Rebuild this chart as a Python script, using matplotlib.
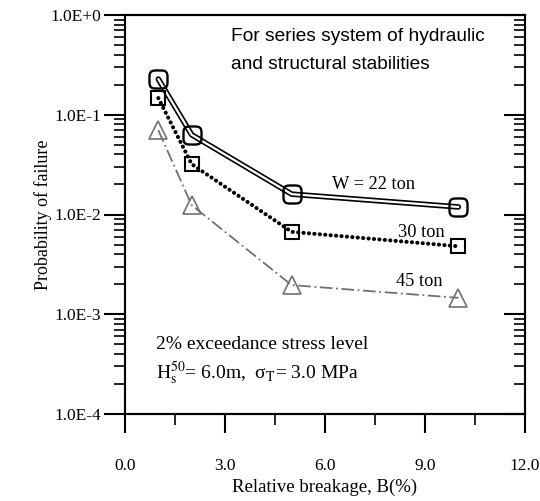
import numpy as np
import matplotlib
matplotlib.use("Agg")
import matplotlib.pyplot as plt
from matplotlib.path import Path
from matplotlib.ticker import FixedLocator, LogLocator, NullFormatter, MultipleLocator

plt.rcParams['mathtext.fontset'] = 'stix'

# ---- data ----
breakage = [1, 2, 5, 10]
p_22ton = [0.228, 0.063, 0.016, 0.0119]
p_30ton = [0.147, 0.032, 0.0067, 0.0048]
p_45ton = [0.070, 0.0124, 0.00196, 0.00146]
y_ticks = [1e-4, 1e-3, 1e-2, 1e-1, 1e0]
y_ticklabels = ["1.0E-4", "1.0E-3", "1.0E-2", "1.0E-1", "1.0E+0"]
x_ticks = [0, 3, 6, 9, 12]
x_ticklabels = ["0.0", "3.0", "6.0", "9.0", "12.0"]

serif = 'Liberation Serif'
sans = 'Liberation Sans'

# rounded-square marker (superellipse)
t = np.linspace(0, 2 * np.pi, 80)
rx = np.sign(np.cos(t)) * np.abs(np.cos(t)) ** 0.5
ry = np.sign(np.sin(t)) * np.abs(np.sin(t)) ** 0.5
rsq = Path(np.column_stack([rx, ry]))

fig = plt.figure(figsize=(5.4, 5.01), dpi=100)
ax = fig.add_axes([125 / 540, 1 - 414 / 501, 400 / 540, 399 / 501])

# 22 ton: double line
ax.plot(breakage, p_22ton, color='black', lw=4.0, solid_capstyle='round', zorder=3)
ax.plot(breakage, p_22ton, color='white', lw=1.6, solid_capstyle='round', zorder=4)
ax.plot(breakage, p_22ton, ls='none', marker=rsq, ms=13, mfc='none', mec='black', mew=1.7, zorder=5)

# 30 ton: dotted
ax.plot(breakage, p_30ton, color='black', lw=2.9, ls=(0, (0.05, 1.3)), dash_capstyle='round', zorder=3)
ax.plot(breakage, p_30ton, ls='none', marker='s', ms=10.5, mfc='none', mec='black', mew=1.5, zorder=5)

# 45 ton: dash-dot gray
ax.plot(breakage, p_45ton, color='#707070', lw=1.3, ls=(0, (7, 2, 1, 2)), zorder=3)
ax.plot(breakage, p_45ton, ls='none', marker='^', ms=13, mfc='none', mec='#707070', mew=1.2, zorder=5)

ax.set_yscale('log')
ax.set_xlim(0, 12)
ax.set_ylim(1e-4, 1)

ax.yaxis.set_major_locator(FixedLocator(y_ticks))
ax.set_yticklabels(y_ticklabels, fontfamily=serif, fontsize=12.5)
ax.yaxis.set_minor_locator(LogLocator(base=10, subs=np.arange(2, 10)))
ax.yaxis.set_minor_formatter(NullFormatter())
ax.set_xticks(x_ticks)
ax.set_xticklabels(x_ticklabels, fontfamily=serif, fontsize=12.5)
ax.xaxis.set_minor_locator(MultipleLocator(1.5))

ax.tick_params(axis='y', which='major', direction='out', length=15, width=1.5, pad=2, right=False)
ax.tick_params(axis='y', which='minor', direction='out', length=8, width=1.2, right=False)
ax.tick_params(axis='x', which='major', direction='out', length=14, width=1.5, pad=18, top=False)
ax.tick_params(axis='x', which='minor', direction='out', length=8, width=1.2, top=False)

ax2 = ax.twinx()
ax2.set_yscale('log')
ax2.set_ylim(1e-4, 1)
ax2.yaxis.set_major_locator(FixedLocator(y_ticks))
ax2.yaxis.set_minor_locator(LogLocator(base=10, subs=np.arange(2, 10)))
ax2.yaxis.set_minor_formatter(NullFormatter())
ax2.tick_params(axis='y', which='major', direction='in', length=15, width=1.5, labelright=False)
ax2.tick_params(axis='y', which='minor', direction='in', length=8, width=1.2, labelright=False)

for a in (ax, ax2):
    for s in a.spines.values():
        s.set_linewidth(1.5)

ax.set_xlabel("Relative breakage, B(%)", fontfamily=serif, fontsize=13.5, labelpad=3)
ax.set_ylabel("Probability of failure", fontfamily=serif, fontsize=13)
ax.yaxis.set_label_coords(-0.1825, 0.5)

ax.text(0.265, 0.947, "For series system of hydraulic", transform=ax.transAxes,
        fontfamily=sans, fontsize=13.8, va='center', ha='left')
ax.text(0.265, 0.877, "and structural stabilities", transform=ax.transAxes,
        fontfamily=sans, fontsize=13.8, va='center', ha='left')
ax.text(0.6225, 0.576, "W = 22 ton", transform=ax.transAxes, fontfamily=serif, fontsize=13.2,
        va='center', ha='center')
ax.text(0.74, 0.456, "30 ton", transform=ax.transAxes, fontfamily=serif, fontsize=13.2,
        va='center', ha='center')
ax.text(0.735, 0.331, "45 ton", transform=ax.transAxes, fontfamily=serif, fontsize=13.2,
        va='center', ha='center')
ax.text(0.0775, 0.173, "2% exceedance stress level", transform=ax.transAxes, fontfamily=serif,
        fontsize=14, va='center', ha='left')
ax.text(0.0775, 0.103, r"H$_{\mathrm{s}}^{50}$= 6.0m,  σ$_{\mathrm{T}}$= 3.0 MPa", transform=ax.transAxes,
        fontfamily=serif, fontsize=14, va='center', ha='left')

fig.savefig("out.png", dpi=100)
